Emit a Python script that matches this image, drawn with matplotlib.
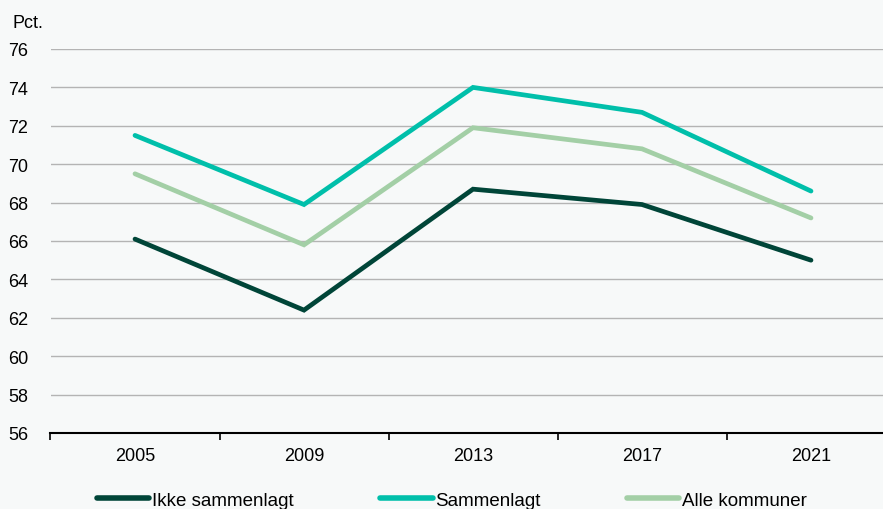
import matplotlib.pyplot as plt

plt.rcParams['font.family'] = ['Liberation Sans', 'DejaVu Sans']

years = ['2005', '2009', '2013', '2017', '2021']
ikke_sammenlagt = [66.1, 62.4, 68.7, 67.9, 65.0]
sammenlagt = [71.5, 67.9, 74.0, 72.7, 68.6]
alle_kommuner = [69.5, 65.8, 71.9, 70.8, 67.2]

bg = '#f7f9f9'
fig = plt.figure(figsize=(8.83, 5.10), dpi=100, facecolor=bg)
ax = fig.add_axes([50.5 / 883, 76 / 510, 845 / 883, 384 / 510], facecolor=bg)

x = range(len(years))
style = dict(linewidth=3.4, solid_capstyle='round', solid_joinstyle='miter')
ax.plot(x, ikke_sammenlagt, color='#004538', label='Ikke sammenlagt', **style)
ax.plot(x, sammenlagt, color='#00bfaa', label='Sammenlagt', **style)
ax.plot(x, alle_kommuner, color='#a3cfa6', label='Alle kommuner', **style)

ax.set_xlim(-0.5, len(years) - 0.5)
ax.set_ylim(56, 76)
ax.set_yticks(range(56, 77, 2))
ax.yaxis.grid(True, color='#b4b4b4', linewidth=1.0)
ax.set_axisbelow(True)
ax.tick_params(axis='y', length=0, pad=16, labelsize=13)

# category labels centred, tick marks on the boundaries
ax.set_xticks([i - 0.5 for i in range(len(years))])
ax.set_xticklabels([])
ax.set_xticks(list(x), minor=True)
ax.set_xticklabels(years, minor=True)
ax.tick_params(axis='x', which='major', direction='out', length=5, width=1.2, color='black')
ax.tick_params(axis='x', which='minor', length=0, pad=10, labelsize=13)

for s in ['top', 'right', 'left']:
    ax.spines[s].set_visible(False)
ax.spines['bottom'].set_linewidth(1.5)
ax.spines['bottom'].set_color('black')

fig.text(12 / 883, 1 - 23 / 510, 'Pct.', fontsize=13, va='center', ha='left')

leg = fig.legend(loc='center', bbox_to_anchor=(452 / 883, 1 - 501 / 510), ncol=3, frameon=False,
                 fontsize=13.5, handlelength=2.8, handletextpad=0.15, columnspacing=4.6)
for line in leg.get_lines():
    line.set_linewidth(4.0)

fig.savefig('out.png', dpi=100, facecolor=bg)
